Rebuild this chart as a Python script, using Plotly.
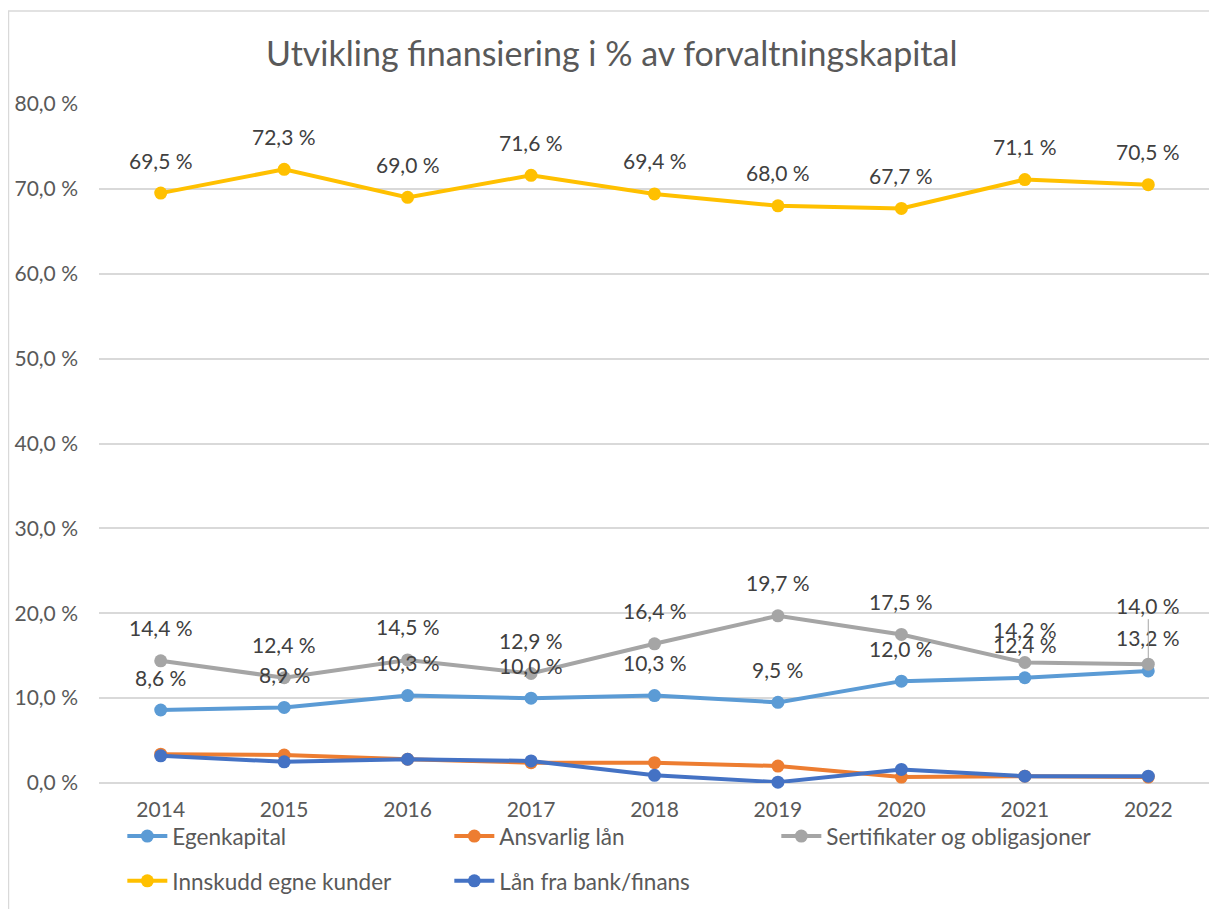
import plotly.graph_objects as go

years = [2014, 2015, 2016, 2017, 2018, 2019, 2020, 2021, 2022]
egenkapital = [8.6, 8.9, 10.3, 10.0, 10.3, 9.5, 12.0, 12.4, 13.2]
ansvarlig_lan = [3.4, 3.3, 2.8, 2.4, 2.4, 2.0, 0.7, 0.8, 0.7]
sertifikater = [14.4, 12.4, 14.5, 12.9, 16.4, 19.7, 17.5, 14.2, 14.0]
innskudd = [69.5, 72.3, 69.0, 71.6, 69.4, 68.0, 67.7, 71.1, 70.5]
lan_bank = [3.2, 2.5, 2.8, 2.6, 0.9, 0.1, 1.6, 0.8, 0.8]
y_ticks = [0, 10, 20, 30, 40, 50, 60, 70, 80]

FONT = "Lato"
LBL = 21
LEG = 22.5
series = [
    ("Egenkapital", egenkapital, "#5B9BD5", "legend", True),
    ("Ansvarlig lån", ansvarlig_lan, "#ED7D31", "legend", False),
    ("Sertifikater og obligasjoner", sertifikater, "#A5A5A5", "legend", True),
    ("Innskudd egne kunder", innskudd, "#FFC000", "legend2", True),
    ("Lån fra bank/finans", lan_bank, "#4472C4", "legend2", False),
]

def fmt(v):
    return f"{v:.1f}".replace(".", ",") + " %"

fig = go.Figure()
annotations = []
for name, vals, color, leg, labels in series:
    fig.add_trace(go.Scatter(
        x=years, y=vals, name=name, mode="lines+markers",
        line=dict(color=color, width=4),
        marker=dict(color=color, size=13),
        legend=leg, cliponaxis=False,
    ))
    if labels:
        for i, (x, v) in enumerate(zip(years, vals)):
            if name.startswith("Sertifikater") and i == len(years) - 1:
                annotations.append(dict(
                    x=x, y=v, text=fmt(v), showarrow=True, ax=0, ay=-59,
                    arrowhead=0, arrowwidth=1, arrowcolor="#A6A6A6", standoff=2,
                    font=dict(family=FONT, size=LBL, color="#404040")))
            else:
                annotations.append(dict(
                    x=x, y=v, text=fmt(v), showarrow=False, yshift=33,
                    font=dict(family=FONT, size=LBL, color="#404040")))

annotations.append(dict(
    text="Utvikling finansiering i % av forvaltningskapital",
    xref="paper", yref="paper", x=0.4617, y=1.0, yanchor="middle", yshift=52,
    showarrow=False, font=dict(family=FONT, size=34, color="#595959")))

fig.update_layout(
    width=1217, height=909,
    margin=dict(l=91, r=15, t=96, b=134, autoexpand=False),
    paper_bgcolor="white", plot_bgcolor="white",
    font=dict(family=FONT, size=LBL, color="#595959"),
    showlegend=True,
    annotations=annotations,
    xaxis=dict(
        range=[2013.5, 2022.5], tickvals=years, ticktext=[str(y) for y in years],
        showgrid=False, showline=False, zeroline=False,
        ticks="", ticklabelstandoff=12,
        tickfont=dict(family=FONT, size=LBL, color="#595959"),
    ),
    yaxis=dict(
        range=[0, 80], tickvals=y_ticks,
        ticktext=[fmt(t) for t in y_ticks],
        showgrid=True, gridcolor="#D9D9D9", gridwidth=1.5,
        zeroline=True, zerolinecolor="#D9D9D9", zerolinewidth=1.5,
        showline=False, ticks="", ticklabelstandoff=20,
        tickfont=dict(family=FONT, size=LBL, color="#595959"),
    ),
    legend=dict(
        orientation="h", x=0.021, y=-0.047, xanchor="left", yanchor="top",
        entrywidth=272, entrywidthmode="pixels", itemwidth=40,
        font=dict(family=FONT, size=LEG, color="#595959"),
        bgcolor="rgba(0,0,0,0)", traceorder="normal",
    ),
    legend2=dict(
        orientation="h", x=0.021, y=-0.113, xanchor="left", yanchor="top",
        entrywidth=272, entrywidthmode="pixels", itemwidth=40,
        font=dict(family=FONT, size=LEG, color="#595959"),
        bgcolor="rgba(0,0,0,0)", traceorder="normal",
    ),
    shapes=[dict(
        type="rect", xref="paper", yref="paper",
        x0=-0.0815, x1=1.0054, y0=-0.25, y1=1.137,
        line=dict(color="#D9D9D9", width=1.5), fillcolor="rgba(0,0,0,0)",
        layer="below")],
)

fig.write_html("out.html")
